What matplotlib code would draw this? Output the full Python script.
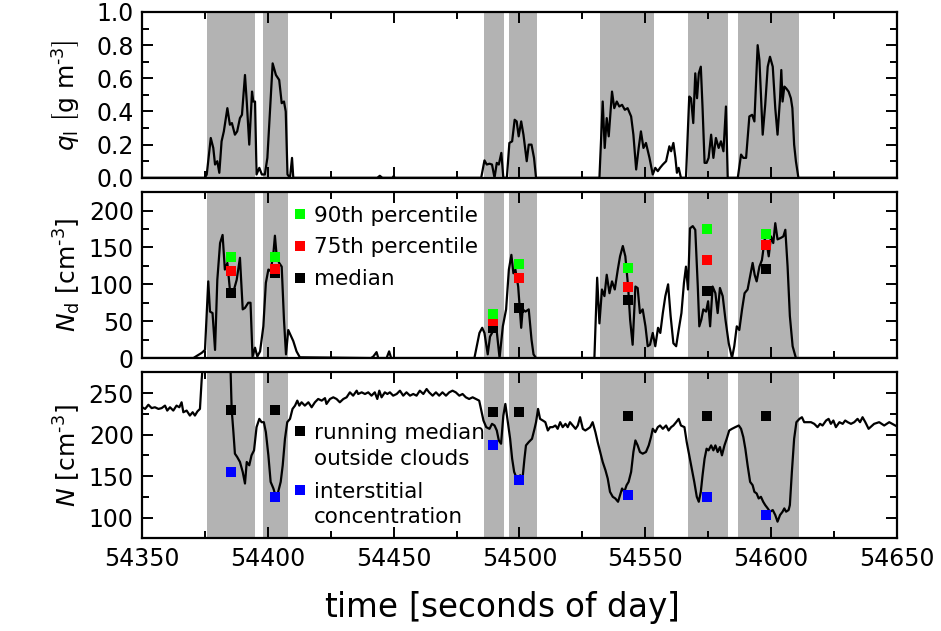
import numpy as np
import matplotlib
matplotlib.use("Agg")
import matplotlib.pyplot as plt
from matplotlib.lines import Line2D
from matplotlib.legend_handler import HandlerLine2D
from matplotlib.ticker import MultipleLocator

# ---------------- data ----------------
cloud_start = [54376, 54398, 54486, 54496, 54532, 54567, 54587]
cloud_end = [54395, 54408, 54494, 54507, 54553.5, 54583, 54611]

ql_t = [54350, 54375.0, 54375.7, 54377.3, 54378.3, 54379.0, 54379.9, 54380.7, 54381.6, 54382.5,
        54383.9, 54384.9, 54385.7, 54386.9, 54387.8, 54388.9, 54389.7, 54390.9, 54391.6, 54392.6,
        54393.7, 54394.2, 54394.9, 54395.5, 54396.6, 54397.6, 54398.8, 54399.8, 54400.6, 54401.9,
        54403.2, 54404.5, 54405.5, 54406.4, 54407.1, 54407.8, 54408.8, 54409.6, 54410.1,
        54443.5, 54444.5, 54445.5, 54449.5, 54450.0, 54450.5,
        54484.8, 54486.1, 54487.0, 54488.1, 54489.1, 54490.1, 54491.0, 54491.8, 54492.8, 54493.6,
        54495.0, 54496.0, 54497.1, 54498.1, 54498.9, 54499.7, 54500.7, 54501.6, 54502.9, 54503.7,
        54504.8, 54505.8, 54506.6,
        54531.8, 54533.1, 54533.9, 54534.7, 54535.5, 54536.8, 54537.7, 54538.7, 54539.7, 54540.8,
        54541.9, 54543.0, 54544.4, 54545.3, 54546.4, 54547.4, 54548.3, 54549.3, 54550.3, 54551.7,
        54553.0, 54554.0, 54555.0, 54555.9, 54557.0, 54558.3, 54559.6, 54560.3, 54561.2, 54562.0,
        54562.6, 54563.3, 54564.2,
        54566.2, 54567.5, 54568.2, 54569.1, 54569.9, 54570.6, 54571.3, 54572.1, 54572.8, 54573.6,
        54574.4, 54575.2, 54576.2, 54577.1, 54578.1, 54579.2, 54580.1, 54581.1, 54582.1, 54582.8,
        54586.8, 54588.1, 54589.0, 54590.1, 54591.4, 54592.5, 54593.4, 54594.7, 54595.4, 54596.0,
        54596.7, 54597.7, 54598.7, 54599.6, 54600.7, 54601.7, 54602.6, 54603.6, 54604.1, 54604.6,
        54605.3, 54606.0, 54607.0, 54607.9, 54608.5, 54609.2, 54609.9, 54610.9, 54650]
ql_v = [0, 0, 0.02, 0.24, 0.18, 0.08, 0.10, 0.03, 0.22, 0.28,
        0.42, 0.32, 0.33, 0.26, 0.28, 0.36, 0.38, 0.62, 0.46, 0.20,
        0.52, 0.46, 0.46, 0.02, 0.06, 0.02, 0.02, 0.12, 0.34, 0.69,
        0.62, 0.59, 0.45, 0.46, 0.40, 0.02, 0.0, 0.12, 0.0,
        0.0, 0.012, 0.0, 0.0, 0.01, 0.0,
        0.0, 0.105, 0.08, 0.085, 0.08, 0.0, 0.09, 0.08, 0.15, 0.0,
        0.0, 0.21, 0.22, 0.35, 0.34, 0.25, 0.34, 0.26, 0.10, 0.20,
        0.20, 0.12, 0.0,
        0.0, 0.46, 0.18, 0.36, 0.25, 0.52, 0.42, 0.46, 0.43, 0.44,
        0.41, 0.42, 0.37, 0.26, 0.05, 0.18, 0.28, 0.18, 0.21, 0.12,
        0.02, 0.06, 0.04, 0.06, 0.08, 0.10, 0.19, 0.16, 0.21, 0.12,
        0.03, 0.06, 0.0,
        0.0, 0.49, 0.48, 0.33, 0.63, 0.48, 0.63, 0.67, 0.42, 0.09,
        0.09, 0.12, 0.26, 0.12, 0.24, 0.18, 0.22, 0.16, 0.43, 0.0,
        0.0, 0.14, 0.12, 0.12, 0.37, 0.38, 0.34, 0.80, 0.71, 0.50,
        0.26, 0.44, 0.67, 0.73, 0.67, 0.42, 0.26, 0.48, 0.65, 0.46,
        0.55, 0.54, 0.52, 0.48, 0.42, 0.20, 0.10, 0.0, 0.0]

nd_t = [54350, 54370.4, 54373.7, 54375.0, 54376.3, 54377.0, 54378.0, 54379.0, 54379.9, 54381.0,
        54382.0, 54382.9, 54383.9, 54384.9, 54386.3, 54387.6, 54388.9, 54390.0, 54390.9, 54392.2,
        54393.1, 54393.9, 54394.9, 54395.8, 54396.9, 54398.2, 54399.2, 54400.2, 54401.1, 54402.2,
        54402.8, 54403.5, 54404.5, 54405.5, 54406.4, 54407.2, 54408.1, 54410.1, 54411.4, 54412.7,
        54441.0, 54441.9, 54443.2, 54443.9, 54447.2, 54448.2, 54449.0,
        54482.1, 54484.1, 54485.2, 54486.1, 54487.4, 54488.3, 54489.1, 54490.5, 54492.1, 54493.4,
        54494.7, 54495.8, 54496.8, 54497.6, 54498.4, 54499.5, 54500.7, 54501.3, 54502.4, 54503.7,
        54504.8, 54505.6, 54506.6,
        54529.8, 54530.9, 54531.8, 54532.8, 54533.8, 54534.7, 54535.8, 54536.8, 54537.9, 54539.1,
        54540.0, 54541.1, 54542.1, 54543.2, 54544.0, 54545.0, 54546.1, 54547.0, 54547.9, 54549.0,
        54550.1, 54551.0, 54551.9, 54553.0, 54554.0, 54555.1, 54556.0, 54557.0, 54558.0, 54559.1,
        54560.1, 54561.2, 54562.3, 54563.3, 54564.4, 54565.4, 54566.2, 54567.0, 54567.8, 54568.9,
        54569.9, 54570.9, 54571.5, 54572.3, 54573.1, 54574.2, 54575.0, 54575.8, 54576.8, 54577.9,
        54578.8, 54579.7, 54580.8, 54581.9, 54583.2, 54584.5, 54585.4, 54586.4, 54587.4, 54588.5,
        54589.5, 54590.7, 54591.7, 54592.7, 54593.5, 54594.3, 54595.4, 54596.4, 54597.5, 54598.3,
        54599.1, 54600.0, 54600.9, 54601.7, 54602.6, 54603.9, 54604.9, 54605.7, 54606.6, 54607.5,
        54608.6, 54609.9, 54650]
nd_v = [0, 0, 7, 11, 104, 63, 61, 11, 106, 156,
        167, 120, 129, 93, 90, 106, 136, 66, 68, 75,
        75, 2, 14, 2, 9, 43, 102, 120, 118, 142,
        166, 138, 129, 124, 52, 5, 38, 23, 9, 1,
        0, 2, 8, 0, 0, 9, 0,
        0, 34, 41, 34, 5, 29, 34, 52, 0, 43,
        66, 120, 140, 115, 120, 97, 41, 66, 63, 66,
        25, 5, 0,
        0, 109, 47, 93, 84, 113, 88, 104, 93, 120,
        138, 152, 138, 97, 52, 18, 97, 95, 61, 66,
        43, 16, 18, 34, 16, 41, 34, 61, 84, 100,
        57, 20, 16, 38, 61, 102, 124, 93, 176, 179,
        174, 97, 43, 52, 66, 63, 77, 43, 97, 88,
        61, 95, 84, 52, 20, 0, 16, 43, 38, 66,
        88, 93, 111, 129, 113, 104, 124, 133, 161, 156,
        138, 165, 156, 183, 161, 163, 165, 174, 124, 57,
        16, 0, 0]

n_t = [54350.0, 54351.2, 54352.5, 54353.8, 54355.1, 54356.5, 54357.8, 54359.1, 54360.0, 54361.1,
       54362.4, 54363.7, 54364.8, 54365.7, 54366.4, 54367.7, 54369.0, 54370.1, 54371.0, 54372.0,
       54373.0, 54373.7, 54374.3, 54376.0, 54384.0, 54385.2, 54385.6, 54386.3, 54386.9, 54387.8,
       54388.9, 54390.0, 54390.9, 54391.6, 54392.6, 54393.5, 54394.5, 54395.5, 54396.6, 54397.5,
       54398.4, 54399.2, 54400.2, 54401.1, 54402.2, 54403.2, 54404.1, 54405.1, 54405.9, 54406.8,
       54407.7, 54408.8, 54409.8, 54410.8, 54411.7, 54412.5, 54413.4, 54414.7, 54416.1, 54417.4,
       54418.7, 54420.0, 54421.4, 54422.7, 54423.3, 54424.7, 54426.0, 54427.3, 54428.6, 54430.0,
       54431.3, 54432.6, 54433.9, 54435.3, 54435.9, 54437.3, 54438.6, 54439.9, 54441.2, 54442.5,
       54443.5, 54444.3, 54445.2, 54446.5, 54447.5, 54448.5, 54449.8, 54451.2, 54452.5, 54453.8,
       54455.1, 54456.5, 54457.8, 54459.1, 54460.4, 54461.8, 54463.1, 54464.1, 54465.5, 54466.8,
       54468.1, 54469.4, 54470.8, 54472.1, 54473.4, 54474.7, 54476.1, 54477.4, 54478.7, 54480.0,
       54481.4, 54482.7, 54484.0, 54485.7, 54486.8, 54488.1, 54489.1, 54490.1, 54491.0, 54491.8,
       54492.7, 54493.6, 54494.4, 54495.4, 54496.3, 54497.1, 54497.9, 54498.7, 54499.5, 54500.3,
       54501.1, 54502.0, 54502.6, 54503.7, 54505.0, 54506.0, 54506.6, 54507.4, 54508.2, 54509.3,
       54510.3, 54511.3, 54512.2, 54513.2, 54514.3, 54515.2, 54516.2, 54517.2, 54518.3, 54519.2,
       54520.1, 54521.2, 54522.3, 54523.2, 54524.1, 54525.2, 54526.2, 54527.2, 54528.1, 54529.1,
       54530.2, 54531.1, 54532.1, 54533.1, 54534.2, 54535.1, 54536.0, 54537.1, 54538.1, 54539.2,
       54540.0, 54540.8, 54541.7, 54542.6, 54543.4, 54544.4, 54545.3, 54546.1, 54547.0, 54547.9,
       54549.0, 54550.3, 54551.4, 54552.3, 54553.0, 54554.0, 54555.0, 54555.9, 54557.0, 54558.3,
       54559.3, 54560.3, 54561.2, 54562.3, 54563.3, 54564.2, 54565.6, 54566.5, 54567.5, 54568.5,
       54569.5, 54570.5, 54571.3, 54572.1, 54572.8, 54573.6, 54574.4, 54575.2, 54576.2, 54577.1,
       54577.9, 54578.8, 54579.7, 54580.5, 54581.5, 54582.4, 54583.4, 54584.5, 54585.8, 54587.2,
       54588.1, 54589.0, 54589.8, 54590.7, 54591.7, 54592.7, 54593.4, 54594.3, 54595.1, 54596.0,
       54596.9, 54597.7, 54598.7, 54599.6, 54600.7, 54601.7, 54602.6, 54603.6, 54604.6, 54605.3,
       54606.0, 54607.0, 54607.5, 54608.3, 54609.2, 54610.1, 54611.3, 54612.3, 54613.2, 54614.6,
       54615.9, 54617.2, 54618.5, 54619.5, 54620.5, 54621.9, 54622.9, 54623.8, 54624.8, 54625.8,
       54627.2, 54628.5, 54629.5, 54630.5, 54631.8, 54633.1, 54634.4, 54635.4, 54636.4, 54637.5,
       54638.8, 54641.0, 54643.0, 54645.0, 54647.0, 54650.0]
n_v = [233, 231, 236, 232, 233, 231, 232, 235, 229, 233,
       229, 235, 233, 239, 227, 229, 223, 227, 223, 228,
       231, 267, 290, 330, 330, 275, 231, 203, 177, 173,
       167, 155, 141, 167, 163, 175, 181, 209, 219, 215,
       215, 203, 175, 143, 135, 125, 131, 143, 163, 195,
       215, 219, 231, 235, 241, 235, 239, 235, 239, 233,
       239, 243, 241, 244, 237, 243, 245, 243, 239, 243,
       245, 251, 247, 253, 249, 251, 249, 251, 247, 251,
       243, 253, 245, 251, 249, 251, 247, 249, 253, 247,
       251, 247, 249, 247, 253, 249, 255, 251, 247, 251,
       247, 251, 247, 251, 253, 251, 247, 249, 245, 243,
       245, 243, 241, 217, 209, 207, 213, 211, 205, 193,
       189, 223, 237, 215, 195, 171, 155, 149, 143, 151,
       143, 171, 187, 191, 195, 207, 215, 231, 219, 217,
       215, 205, 209, 209, 211, 207, 215, 209, 213, 209,
       215, 211, 207, 211, 221, 207, 205, 207, 209, 215,
       203, 191, 179, 167, 157, 147, 131, 125, 123, 119,
       127, 135, 131, 139, 143, 155, 179, 193, 187, 179,
       177, 179, 187, 197, 207, 203, 209, 211, 207, 211,
       205, 209, 211, 215, 219, 211, 209, 191, 175, 159,
       143, 125, 119, 131, 151, 171, 183, 181, 187, 181,
       187, 179, 185, 175, 187, 195, 205, 207, 209, 211,
       207, 197, 183, 163, 143, 139, 131, 129, 123, 125,
       119, 115, 111, 107, 109, 103, 95, 103, 107, 111,
       107, 109, 115, 155, 195, 215, 219, 221, 215, 215,
       215, 213, 209, 213, 211, 217, 219, 213, 217, 209,
       215, 213, 217, 215, 213, 215, 219, 215, 221, 215,
       207, 213, 215, 211, 215, 210]

stat_t = [54385.5, 54403, 54489.5, 54500, 54543, 54574.5, 54598]
nd_p90 = [137, 137, 60, 128, 122, 175, 168]
nd_p75 = [118, 121, 50, 109, 96, 133, 153]
nd_med = [88, 115, 41, 68, 79, 91, 121]
n_run_median = [230, 230, 227, 227, 223, 222, 222]
n_interstitial = [155, 125, 188, 145, 127, 125, 103]

# ---------------- plotting ----------------
plt.rcParams['font.family'] = 'DejaVu Sans'
plt.rcParams['mathtext.fontset'] = 'dejavusans'


class HandlerUp(HandlerLine2D):
    """Legend handler that lifts the marker to the first line of a two-line label."""

    def __init__(self, shift, **kw):
        super().__init__(**kw)
        self.shift = shift

    def create_artists(self, legend, orig_handle, xdescent, ydescent, width, height,
                       fontsize, trans):
        return super().create_artists(legend, orig_handle, xdescent, ydescent, width,
                                      height + 2 * self.shift, fontsize, trans)


fig, axes = plt.subplots(3, 1, figsize=(9.41, 6.31), dpi=100, sharex=True)
fig.subplots_adjust(left=0.151, right=0.953, top=0.981, bottom=0.147, hspace=0.087)

gray = '#b3b3b3'
lw = 1.6
ms = 7.2
tick_fs = 17
hy = '\u2010'

for ax in axes:
    for s, e in zip(cloud_start, cloud_end):
        ax.axvspan(s, e, color=gray, lw=0, zorder=0)
    ax.tick_params(which='both', direction='in', top=True, right=True, width=1.4,
                   labelsize=tick_fs, pad=6)
    ax.tick_params(which='major', length=8)
    ax.tick_params(which='minor', length=5)
    for sp in ax.spines.values():
        sp.set_linewidth(1.6)
    ax.xaxis.set_major_locator(MultipleLocator(50))
    ax.xaxis.set_minor_locator(MultipleLocator(25))

ax1, ax2, ax3 = axes
ax1.set_xlim(54350, 54650)

# top panel
ax1.plot(ql_t, ql_v, color='k', lw=lw, zorder=3)
ax1.set_ylim(0, 1.0)
ax1.yaxis.set_major_locator(MultipleLocator(0.2))
ax1.yaxis.set_minor_locator(MultipleLocator(0.1))
ax1.set_ylabel(r'$q_\mathrm{l}\ \left[\mathrm{g\ m^{' + hy + r'3}}\right]$', fontsize=18)

# middle panel
ax2.plot(nd_t, nd_v, color='k', lw=lw, zorder=3)
ax2.plot(stat_t, nd_med, 's', color='k', ms=ms, mew=0, zorder=4)
ax2.plot(stat_t, nd_p75, 's', color='#ff0000', ms=ms, mew=0, zorder=5)
ax2.plot(stat_t, nd_p90, 's', color='#00ff00', ms=ms, mew=0, zorder=6)
ax2.set_ylim(0, 225)
ax2.yaxis.set_major_locator(MultipleLocator(50))
ax2.yaxis.set_minor_locator(MultipleLocator(25))
ax2.set_ylabel(r'$N_\mathrm{d}\ \left[\mathrm{cm^{' + hy + r'3}}\right]$', fontsize=18)

h90 = Line2D([], [], ls='none', marker='s', color='#00ff00', ms=ms, mew=0)
h75 = Line2D([], [], ls='none', marker='s', color='#ff0000', ms=ms, mew=0)
hmed = Line2D([], [], ls='none', marker='s', color='k', ms=ms, mew=0)
ax2.legend([h90, h75, hmed], ['90th percentile', '75th percentile', 'median'],
           loc='upper left', bbox_to_anchor=(0.195, 0.945), frameon=False,
           fontsize=15.5, handlelength=0.6, handletextpad=0.35, labelspacing=0.55,
           borderpad=0.2, borderaxespad=0.0)

# bottom panel
ax3.plot(n_t, n_v, color='k', lw=lw, zorder=3)
ax3.plot(stat_t, n_run_median, 's', color='k', ms=ms, mew=0, zorder=4)
ax3.plot(stat_t, n_interstitial, 's', color='#0000ff', ms=ms, mew=0, zorder=4)
ax3.set_ylim(75, 275)
ax3.yaxis.set_major_locator(MultipleLocator(50))
ax3.yaxis.set_minor_locator(MultipleLocator(25))
ax3.set_ylabel(r'$N\ \left[\mathrm{cm^{' + hy + r'3}}\right]$', fontsize=18)

hrm = Line2D([], [], ls='none', marker='s', color='k', ms=ms, mew=0)
hint = Line2D([], [], ls='none', marker='s', color='#0000ff', ms=ms, mew=0)
up = HandlerUp(11)
leg3 = ax3.legend([hrm, hint], ['running median\noutside clouds', 'interstitial\nconcentration'],
                  loc='upper left', bbox_to_anchor=(0.195, 0.72), frameon=False,
                  fontsize=15.5, handlelength=0.6, handletextpad=0.35, labelspacing=0.6,
                  borderpad=0.2, borderaxespad=0.0,
                  handler_map={hrm: up, hint: up})
for t in leg3.get_texts():
    t.set_linespacing(1.35)

ax3.set_xlabel(r'time $\left[\mathrm{seconds\ of\ day}\right]$', fontsize=23.5)
ax3.ticklabel_format(axis='x', useOffset=False, style='plain')
ax3.xaxis.set_label_coords(0.476, -0.305)

fig.align_ylabels(axes)
fig.savefig('out.png', dpi=100)
